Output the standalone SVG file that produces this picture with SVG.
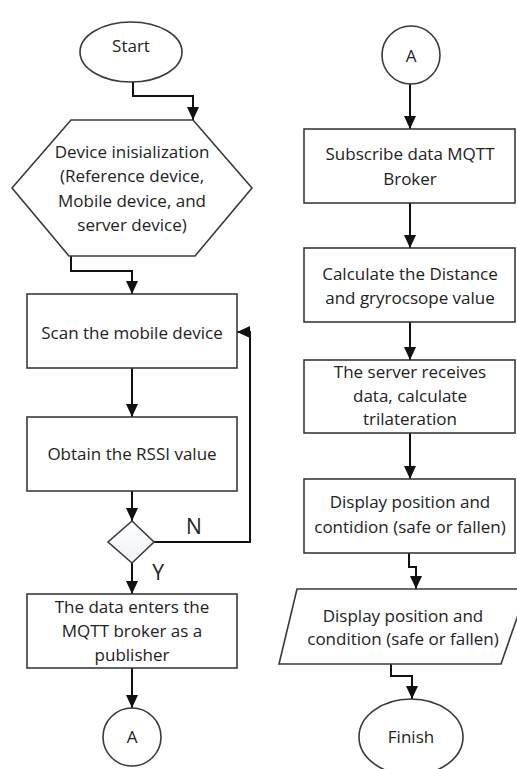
<svg xmlns="http://www.w3.org/2000/svg" width="517" height="769" viewBox="0 0 517 769">
  <style>
    .shape { fill: #ffffff; stroke: #3a3a3a; stroke-width: 1.6; }
    .decision { fill: url(#diamondFill); stroke: #3a3a3a; stroke-width: 1.6; }
    .label { font-family: "Open Sans", "Noto Sans", sans-serif; font-size: 17px; fill: #222222; text-anchor: middle; }
    .branch { font-family: "Open Sans", "Noto Sans", sans-serif; font-size: 21px; fill: #222222; text-anchor: middle; }
    .link { fill: none; stroke: #111111; stroke-width: 2; marker-end: url(#arrow); }
    .plain { fill: none; stroke: #111111; stroke-width: 2; }
  </style>
  <defs>
    <linearGradient id="diamondFill" x1="0" y1="0" x2="0" y2="1">
      <stop offset="0" stop-color="#ffffff"/>
      <stop offset="1" stop-color="#eef1f6"/>
    </linearGradient>
    <marker id="arrow" markerUnits="userSpaceOnUse" markerWidth="13" markerHeight="12" refX="13" refY="6" orient="auto">
      <path d="M0,0 L13,6 L0,12 Z" fill="#111111"/>
    </marker>
  </defs>
  <rect width="517" height="769" fill="#ffffff"/>

  <!-- connectors -->
  <g id="connectors">
    <path class="link" d="M133,82 V96 H193 V120"/>
    <path class="link" d="M71,256 V271 H132 V294"/>
    <path class="link" d="M132,368 V417"/>
    <path class="link" d="M132,491 V521"/>
    <path class="link" d="M154,542 H250 V332 H237"/>
    <path class="link" d="M132,563 V594"/>
    <path class="link" d="M132,668 V708"/>
    <path class="link" d="M410,84 V129"/>
    <path class="link" d="M410,203 V248"/>
    <path class="link" d="M410,322 V360"/>
    <path class="link" d="M410,433 V479"/>
    <path class="link" d="M409,553 V567 H416 V589"/>
    <path class="link" d="M391,664 V676 H412 V699"/>
  </g>

  <!-- left column -->
  <g id="start">
    <ellipse class="shape" cx="131" cy="52" rx="51" ry="30"/>
    <text class="label" x="131" y="52">Start</text>
  </g>
  <g id="device-init">
    <polygon class="shape" points="71,120 193,120 252,188 195,256 69,256 12,188"/>
    <text class="label" x="132" y="158">Device inisialization</text>
    <text class="label" x="132" y="182">(Reference device,</text>
    <text class="label" x="132" y="207">Mobile device, and</text>
    <text class="label" x="132" y="231">server device)</text>
  </g>
  <g id="scan">
    <rect class="shape" x="27" y="294" width="210" height="74"/>
    <text class="label" x="132" y="339">Scan the mobile device</text>
  </g>
  <g id="rssi">
    <rect class="shape" x="27" y="417" width="210" height="74"/>
    <text class="label" x="132" y="460">Obtain the RSSI value</text>
  </g>
  <g id="check">
    <polygon class="decision" points="132,521 154,542 132,563 108,542"/>
    <text class="branch" x="194" y="534">N</text>
    <text class="branch" x="158" y="580">Y</text>
  </g>
  <g id="publish">
    <rect class="shape" x="27" y="594" width="210" height="74"/>
    <text class="label" x="132" y="613">The data enters the</text>
    <text class="label" x="132" y="637">MQTT broker as a</text>
    <text class="label" x="132" y="661">publisher</text>
  </g>
  <g id="connector-a-out">
    <circle class="shape" cx="132" cy="737" r="29"/>
    <text class="label" x="132" y="743">A</text>
  </g>

  <!-- right column -->
  <g id="connector-a-in">
    <circle class="shape" cx="411" cy="55" r="29"/>
    <text class="label" x="411" y="62">A</text>
  </g>
  <g id="subscribe">
    <rect class="shape" x="304" y="129" width="211" height="74"/>
    <text class="label" x="410" y="160">Subscribe data MQTT</text>
    <text class="label" x="410" y="185">Broker</text>
  </g>
  <g id="calculate">
    <rect class="shape" x="304" y="248" width="211" height="74"/>
    <text class="label" x="410" y="280">Calculate the Distance</text>
    <text class="label" x="410" y="304">and gryrocsope value</text>
  </g>
  <g id="trilateration">
    <rect class="shape" x="304" y="360" width="211" height="73"/>
    <text class="label" x="410" y="378">The server receives</text>
    <text class="label" x="410" y="402">data, calculate</text>
    <text class="label" x="410" y="425">trilateration</text>
  </g>
  <g id="display-box">
    <rect class="shape" x="304" y="479" width="211" height="74"/>
    <text class="label" x="410" y="508">Display position and</text>
    <text class="label" x="410" y="533">contidion (safe or fallen)</text>
  </g>
  <g id="display-output">
    <polygon class="shape" points="297,589 527,589 501,664 279,664"/>
    <text class="label" x="403" y="622">Display position and</text>
    <text class="label" x="403" y="645">condition (safe or fallen)</text>
  </g>
  <g id="finish">
    <ellipse class="shape" cx="411" cy="737" rx="52" ry="38"/>
    <text class="label" x="411" y="743">Finish</text>
  </g>
</svg>
